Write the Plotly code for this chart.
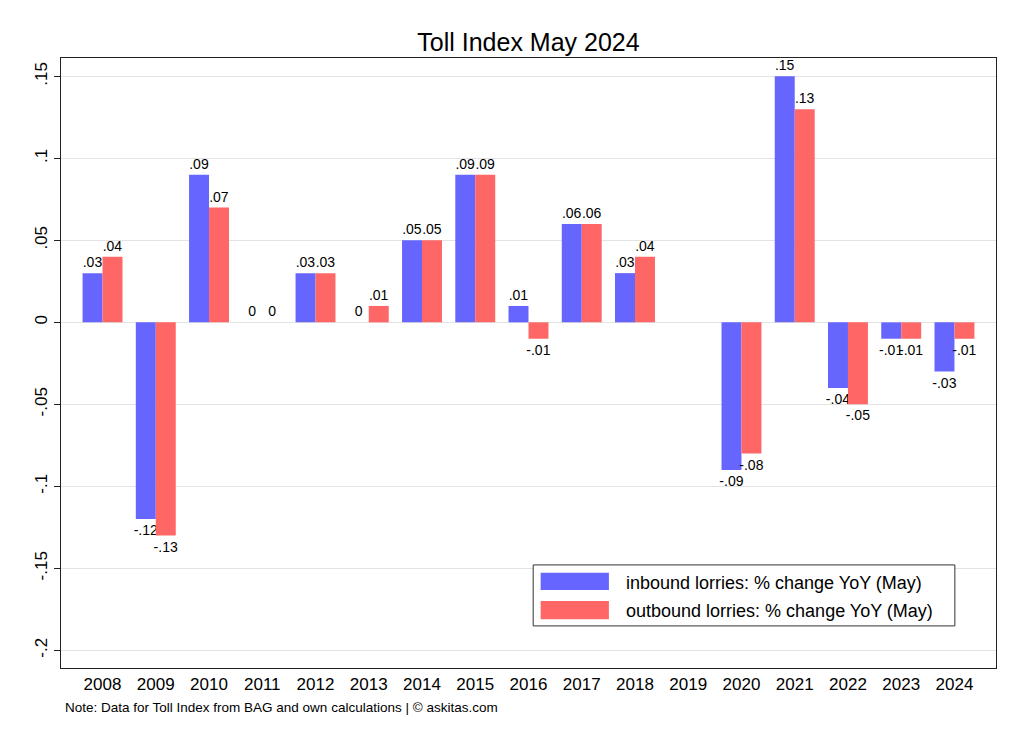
import plotly.graph_objects as go

years = [str(y) for y in range(2008, 2025)]
inbound = [0.03, -0.12, 0.09, 0.0, 0.03, 0.0, 0.05, 0.09, 0.01, 0.06, 0.03, None,
           -0.09, 0.15, -0.04, -0.01, -0.03]
outbound = [0.04, -0.13, 0.07, 0.0, 0.03, 0.01, 0.05, 0.09, -0.01, 0.06, 0.04, None,
            -0.08, 0.13, -0.05, -0.01, -0.01]
ytick_vals = [0.15, 0.1, 0.05, 0, -0.05, -0.1, -0.15, -0.2]
ytick_text = [".15", ".1", ".05", "0", "-.05", "-.1", "-.15", "-.2"]
names = ["inbound lorries: % change YoY (May)", "outbound lorries: % change YoY (May)"]
colors = ["#6666ff", "#ff6666"]


def stata_fmt(v):
    if v is None:
        return ""
    if v == 0:
        return "0"
    s = f"{abs(v):.2f}".rstrip("0").rstrip(".")
    if s.startswith("0"):
        s = s[1:]
    return ("-" if v < 0 else "") + s


FONT = "Liberation Sans, Arial, Helvetica, sans-serif"
W, H = 1008, 729

fig = go.Figure()
for vals, name, col in zip([inbound, outbound], names, colors):
    fig.add_trace(go.Bar(
        x=years, y=vals, name=name,
        marker=dict(color=col, line=dict(width=0)),
        text=[stata_fmt(v) for v in vals],
        textposition="outside",
        constraintext="none",
        textfont=dict(size=14, color="black", family=FONT),
        cliponaxis=False,
        showlegend=False,
    ))

fig.update_layout(
    width=W, height=H,
    margin=dict(l=53, r=20, t=50, b=69),
    paper_bgcolor="white", plot_bgcolor="white",
    font=dict(family=FONT, color="black"),
    barmode="group", bargap=0.25, bargroupgap=0,
    title=dict(text="Toll Index May 2024", x=0.5, xref="paper",
               y=1 - 34 / H, yanchor="middle",
               font=dict(size=25, color="black", family=FONT)),
)
fig.update_xaxes(
    type="category", range=[-0.78, 16.78],
    showgrid=False, ticks="", showline=True, linecolor="#222", linewidth=1.2,
    mirror=True, tickfont=dict(size=17, family=FONT, color="black"),
)
fig.update_yaxes(
    range=[-0.2108, 0.1612], tickvals=ytick_vals, ticktext=ytick_text,
    tickangle=-90, ticks="outside", ticklen=6, tickcolor="#222",
    showgrid=True, gridcolor="#e3e3e3", gridwidth=1,
    zeroline=False, showline=True, linecolor="#222", linewidth=1.2, mirror=True,
    tickfont=dict(size=17, family=FONT, color="black"),
)

# Legend box (Stata style)
shapes = [dict(type="rect", xref="paper", yref="paper", x0=0.505, x1=0.956,
               y0=0.069, y1=0.169, line=dict(color="#333", width=1),
               fillcolor="white", layer="above")]
sw_y = [(0.128, 0.156), (0.080, 0.110)]
txt_y = [0.139, 0.0934]
for (y0, y1), col in zip(sw_y, colors):
    shapes.append(dict(type="rect", xref="paper", yref="paper", x0=0.513, x1=0.586,
                       y0=y0, y1=y1, line=dict(width=0), fillcolor=col, layer="above"))
annotations = []
for ty, name in zip(txt_y, names):
    annotations.append(dict(xref="paper", yref="paper", x=0.602, y=ty, text=name,
                            showarrow=False, xanchor="left", yanchor="middle",
                            font=dict(size=18, color="black", family=FONT)))
annotations.append(dict(xref="paper", yref="paper", x=0.002, y=-0.064,
                        text="Note: Data for Toll Index from BAG and own calculations | © askitas.com",
                        showarrow=False, xanchor="left", yanchor="middle",
                        font=dict(size=13.5, color="black", family=FONT)))
fig.update_layout(shapes=shapes, annotations=annotations)

fig.write_html("out.html")
